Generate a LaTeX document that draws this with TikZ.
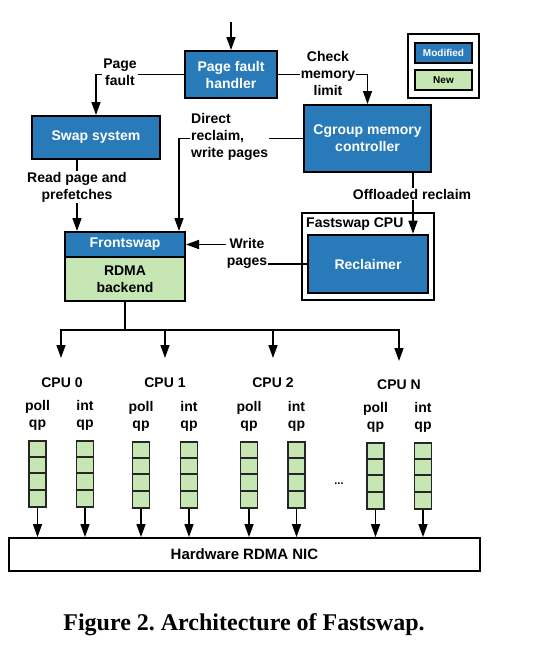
\documentclass[tikz,border=0pt]{standalone}
\usepackage{fontspec}
\setmainfont{Liberation Sans}
\newfontfamily\capfont{Liberation Serif}
\usetikzlibrary{arrows.meta,calc}
\definecolor{modblue}{RGB}{41,122,185}
\definecolor{newgreen}{RGB}{198,230,180}
\frenchspacing
\begin{document}
\begin{tikzpicture}[x=1pt,y=-1pt,
  every node/.style={font=\fontsize{14}{17}\selectfont\bfseries, inner sep=1pt},
  blockm/.style={draw=black, line width=2pt, fill=modblue, text=white, align=center, inner sep=0pt},
  blockn/.style={draw=black, line width=2pt, fill=newgreen, text=black, align=center, inner sep=0pt},
  plainbox/.style={draw=black, line width=1.8pt, inner sep=0pt},
  lbl/.style={fill=white, align=center, inner sep=1pt},
  arr/.style={line width=1.5pt, -{Triangle[length=13pt,width=9pt]}},
  ln/.style={line width=1.5pt},
  qbox/.style={draw=black!85, line width=1.8pt, fill=newgreen, minimum width=17pt, minimum height=66pt, inner sep=0pt},
  small/.style={font=\fontsize{10}{12}\selectfont\bfseries}
]
\useasboundingbox (0,0) rectangle (533,646);

% main blocks
\node[blockm, minimum width=92pt, minimum height=47pt] (pfh) at (231,74.5) {Page fault\\handler};
\node[blockm, minimum width=128pt, minimum height=43pt] (swap) at (96,137.5) {Swap system};
\node[blockm, minimum width=127pt, minimum height=67pt] (cg) at (367.5,138.5) {Cgroup memory\\controller};
\node[plainbox, minimum width=132pt, minimum height=87pt] (fcpu) at (368,256.5) {};
\node[anchor=west, inner sep=0pt] (fcpul) at (306,224) {Fastswap CPU};
\node[blockm, line width=2.6pt, minimum width=120pt, minimum height=58pt] (recl) at (368,264) {Reclaimer};
\node[blockm, minimum width=120pt, minimum height=25pt] (fs) at (125,244.5) {Frontswap};
\node[blockn, minimum width=120pt, minimum height=44pt] (rdma) at (125,279) {RDMA\\backend};

% legend
\node[plainbox, minimum width=71pt, minimum height=64pt] (leg) at (443.5,66) {};
\node[blockm, small, line width=2.2pt, minimum width=57pt, minimum height=20pt] (legm) at (443.5,53) {Modified};
\node[blockn, small, line width=2.2pt, minimum width=57pt, minimum height=20pt] (legn) at (443.5,80) {New};

% connectors
\coordinate (top) at (231,22);
\draw[arr] (top) -- (pfh.north);
\draw[arr] (pfh.west) -| (swap.north);
\node[lbl] (pfl) at (120,72.5) {Page\\fault};
\draw[arr] (pfh.east) -| (cg.north);
\node[lbl] (cml) at (328,73) {Check\\memory\\limit};
\coordinate (drx) at (179,0);
\draw[arr] (cg.west) -| (drx |- fs.north);
\node[lbl, anchor=west, align=left] (drl) at (190,137) {Direct\\reclaim,\\write pages};
\coordinate (rpx) at (77,0);
\draw[arr] (swap.south -| rpx) -- (fs.north -| rpx);
\node[lbl] (rpl) at (77,187) {Read page and\\prefetches};
\coordinate (olx) at (413,0);
\draw[arr] (cg.south -| olx) -- (recl.north -| olx);
\node[lbl] (oll) at (412,194) {Offloaded reclaim};
\coordinate (wpx) at (247,0);
\draw[arr] (recl.west) -- (recl.west -| wpx) |- (fs.east);
\node[lbl] (wpl) at (247,253) {Write\\pages};

% fork to CPUs
\coordinate (bus) at (125,330);
\coordinate (b1) at (165,330);
\coordinate (b2) at (273,330);
\coordinate (e0) at (61,358);
\coordinate (e1) at (165,358);
\coordinate (e2) at (273,358);
\coordinate (e3) at (399,361);
\draw[ln] (rdma.south) -- (bus);
\draw[arr] (bus) -| (e0);
\draw[arr] (bus) -| (e3);
\draw[arr] (b1) -- (e1);
\draw[arr] (b2) -- (e2);

% CPU labels
\node (c0) at (62,383) {CPU 0};
\node (c1) at (165,383) {CPU 1};
\node (c2) at (273,383) {CPU 2};
\node (c3) at (399,385) {CPU N};

% NIC
\node[plainbox, font=\fontsize{15}{18}\selectfont\bfseries, minimum width=471pt, minimum height=33pt] (nic) at (244.5,554.5) {Hardware RDMA NIC};

% queues
\foreach \x/\yo/\t [count=\i] in {37.5/0/poll,85/0/int,141/1/poll,189/1/int,249/1/poll,296.5/1/int,375.5/2/poll,423/2/int}{
  \node[align=center] (t\i) at (\x,415.5+\yo) {\t\\qp};
  \node[qbox] (q\i) at (\x,474+\yo) {};
  \foreach \k in {1,2,3}
    \draw[line width=1.8pt, black!85] ($(q\i.north west)+(0,16.5*\k)$) -- ($(q\i.north east)+(0,16.5*\k)$);
  \draw[arr] (q\i.south) -- (q\i.south |- nic.north);
}
\node[font=\fontsize{11}{13}\selectfont\bfseries] (dots) at (339,484) {...};

% caption
\node[font=\capfont\bfseries\fontsize{24}{29}\selectfont] (cap) at (244,625) {Figure 2. Architecture of Fastswap.};
\end{tikzpicture}
\end{document}
